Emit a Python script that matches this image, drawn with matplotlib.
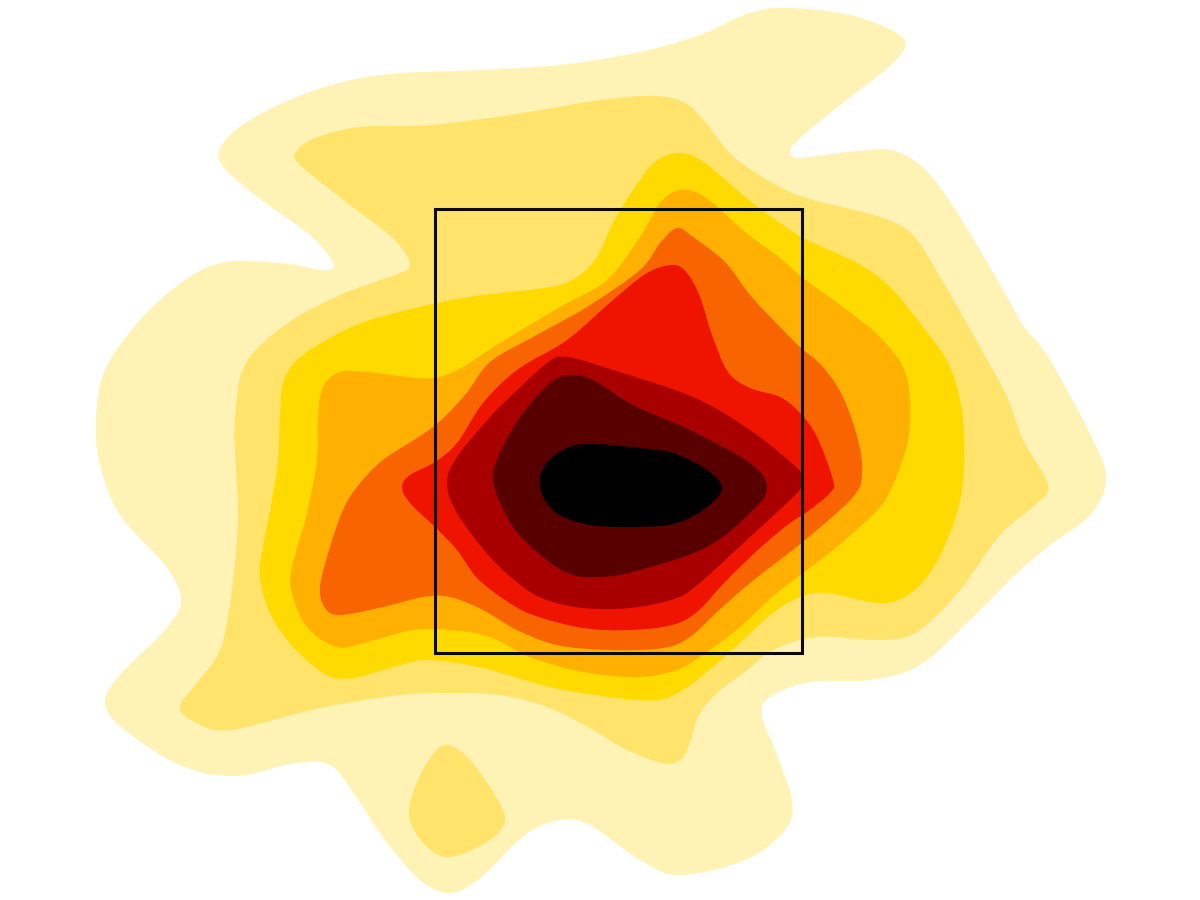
import matplotlib
matplotlib.use("Agg")
import matplotlib.pyplot as plt
import numpy as np
from matplotlib.path import Path
from matplotlib.patches import PathPatch, Rectangle

# contour outlines, outermost level first
level1 = [(790,8),(850,15),(895,32),(905,47),(885,70),(840,105),(800,138),(790,152),(800,158),(847,152),(890,150),
          (920,165),(947,197),(980,250),(1007,297),(1023,325),(1050,360),(1093,440),(1106,480),(1090,515),(1050,545),
          (1015,575),(970,620),(920,665),(870,680),(810,682),(770,697),(762,715),(775,750),(792,800),(785,830),(745,860),
          (680,875),(640,860),(590,825),(560,820),(525,835),(480,878),(450,893),(420,880),(385,840),(355,795),(330,765),
          (295,763),(235,776),(180,765),(125,730),(105,703),(120,675),(165,630),(181,600),(165,565),(120,515),(100,465),
          (96,420),(105,370),(140,320),(185,280),(225,262),(280,263),(325,270),(333,263),(310,235),(255,195),(222,165),
          (222,145),(250,120),(310,92),(380,75),(480,70),(560,65),(640,52),(700,35),(750,13)]
level2 = [(655,96),(685,103),(705,122),(735,158),(780,187),(813,200),(880,217),(913,235),(940,277),(980,347),(1007,397),
          (1023,440),(1048,485),(1035,505),(1000,535),(960,590),(920,630),(885,640),(817,637),(773,650),(750,668),(717,693),
          (698,717),(690,743),(680,760),(663,763),(627,750),(593,730),(550,708),(500,695),(450,693),(400,695),(320,708),
          (230,730),(195,722),(180,707),(195,685),(220,650),(232,590),(238,520),(236,470),(235,420),(245,365),(285,325),
          (340,295),(395,275),(410,265),(395,240),(350,205),(300,165),(296,152),(315,138),(360,127),(430,125),(510,115),(600,100)]
level2_island = [(449,745),(470,760),(495,795),(505,820),(490,840),(450,857),(425,845),(409,815),(418,780),(435,752)]
level3 = [(680,153),(705,163),(745,197),(780,223),(807,240),(857,263),(890,287),(923,327),(950,367),(963,420),(962,490),
          (945,545),(920,585),(885,603),(827,593),(800,597),(773,613),(743,640),(715,665),(683,690),(657,700),(617,698),
          (550,687),(483,668),(427,660),(390,668),(353,678),(327,675),(293,647),(270,613),(260,577),(263,547),(277,470),
          (280,413),(283,383),(297,360),(330,338),(370,320),(437,303),(483,295),(550,287),(577,277),(597,257),(613,223),
          (633,190),(655,162)]
level4 = [(680,190),(705,197),(745,232),(780,258),(803,278),(847,310),(880,337),(903,367),(910,400),(908,440),(895,480),
          (880,507),(845,540),(807,570),(772,597),(740,627),(707,652),(677,670),(637,677),(583,672),(530,657),(490,637),
          (450,630),(413,630),(367,642),(337,647),(307,627),(292,593),(292,567),(307,513),(317,460),(318,417),(323,387),
          (340,372),(367,372),(417,378),(440,377),(463,367),(500,343),(560,307),(607,280),(640,237),(660,203)]
level5 = [(677,228),(693,237),(725,262),(750,295),(780,327),(800,347),(823,367),(843,397),(858,440),(862,473),(853,497),
          (805,540),(750,583),(717,612),(690,637),(663,648),(610,650),(557,645),(517,630),(483,610),(450,597),(423,597),
          (383,607),(340,615),(325,608),(320,587),(330,547),(343,510),(357,487),(383,460),(433,427),(465,395),
          (490,362),(533,337),(587,307),(640,270),(660,243)]
level6 = [(673,265),(687,273),(700,297),(712,335),(728,372),(750,388),(780,397),(800,413),(817,437),(833,480),(830,493),
          (807,512),(790,523),(760,548),(725,582),(697,612),(672,625),(630,630),(583,628),(533,615),(505,600),(477,578),
          (457,550),(435,527),(410,503),(402,487),(410,475),(435,462),(457,443),(483,403),(517,370),(567,340),(613,300),(647,273)]
level7 = [(567,357),(613,370),(693,397),(750,430),(797,468),(802,480),(797,493),(750,537),(703,580),(677,598),(630,608),
          (583,608),(547,600),(523,587),(490,557),(457,513),(447,483),(457,457),(490,417),(510,397),(547,363)]
level8 = [(570,375),(593,380),(633,405),(690,430),(750,463),(767,487),(753,510),(707,547),(640,570),(600,577),(565,572),
          (527,543),(507,517),(493,480),(500,453),(520,417),(550,383)]
level9 = [(590,444),(640,448),(673,453),(707,470),(722,488),(707,507),(677,523),(640,527),(590,525),(555,512),(540,488),
          (545,465),(565,449)]

levels = [level1, level2, level2_island, level3, level4, level5, level6, level7, level8, level9]
colors = ["#fef3b5", "#ffe36b", "#ffe36b", "#ffda00", "#ffb000", "#f76400", "#ee1400", "#a80000", "#580000", "#000000"]

# box edges
box_x = [435, 802]
box_y = [209, 653]


def closed_path(points):
    # closed catmull-rom outline written as bezier segments
    pts = np.array(points, dtype=float)
    n = len(pts)
    verts = [pts[0]]
    codes = [Path.MOVETO]
    for i in range(n):
        p0, p1, p2, p3 = pts[i - 1], pts[i], pts[(i + 1) % n], pts[(i + 2) % n]
        verts += [p1 + (p2 - p0) / 6, p2 - (p3 - p1) / 6, p2]
        codes += [Path.CURVE4] * 3
    return Path(verts, codes)


fig = plt.figure(figsize=(12, 9), dpi=100)
ax = fig.add_axes([0, 0, 1, 1])
ax.set_xlim(0, 1200)
ax.set_ylim(900, 0)
ax.axis("off")

for outline, color in zip(levels, colors):
    ax.add_patch(PathPatch(closed_path(outline), facecolor=color, edgecolor="none"))

ax.add_patch(Rectangle((box_x[0], box_y[0]), box_x[1] - box_x[0], box_y[1] - box_y[0],
                       fill=False, edgecolor="#0a0a0a", linewidth=2.2, joinstyle="miter"))

plt.savefig("out.png", dpi=100)
